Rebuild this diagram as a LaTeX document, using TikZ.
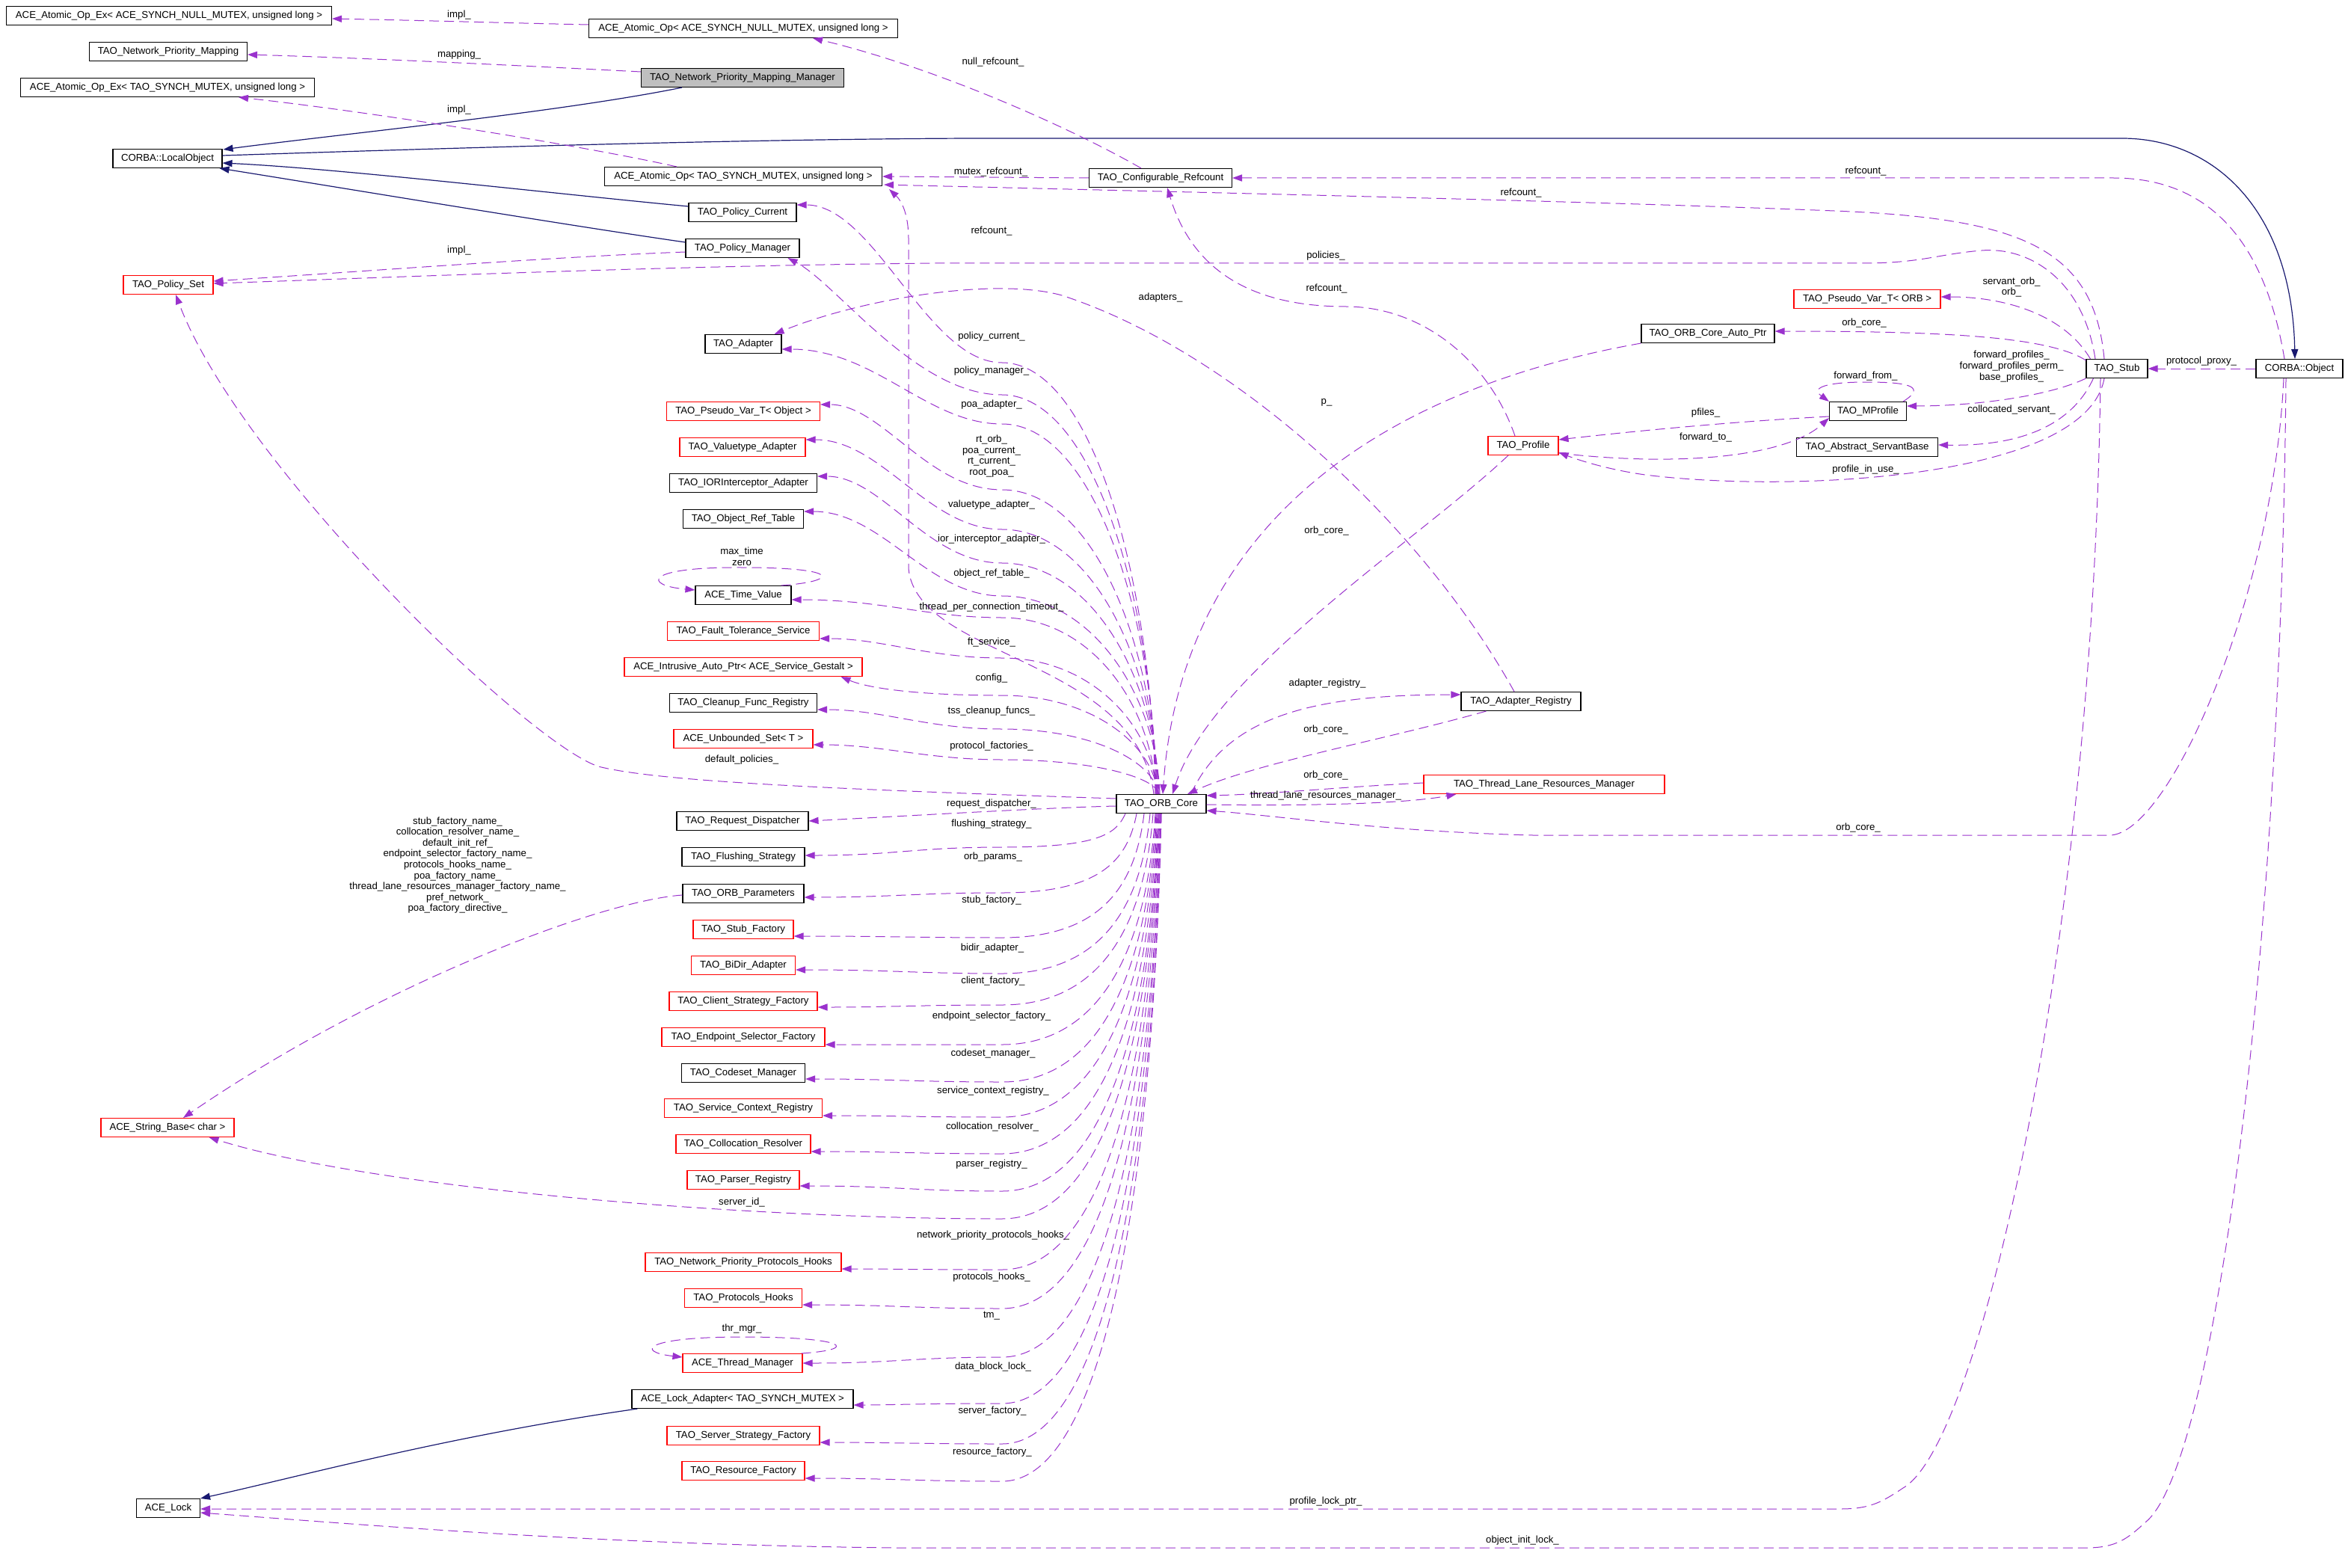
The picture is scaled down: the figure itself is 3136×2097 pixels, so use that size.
\documentclass[tikz,border=0pt]{standalone}
\usepackage{fontspec}
\setmainfont{Liberation Sans}
\usetikzlibrary{arrows.meta,calc}
\definecolor{depc}{HTML}{9A32CD}
\definecolor{inhc}{HTML}{191970}
\newcommand{\dfont}{\fontsize{6.6pt}{7.3pt}\selectfont}
\newcommand{\upE}[4]{\draw[dep] (#1,0 |- core.north) .. controls (#1-5,{(1062+#2)/2}) and (1460,#2) .. (1340,#2) .. controls (1240,#2) and (#4,0 |- #3) .. (#3);}
\newcommand{\dnE}[4]{\draw[dep] (#1,0 |- core.south) .. controls (#1-12,{1088+0.6*(#2-1088)}) and (1470,#2) .. (1340,#2) .. controls (1225,#2) and (#4,0 |- #3) .. (#3);}
\begin{document}
\begin{tikzpicture}[x=0.5pt,y=-0.5pt,
  box/.style={draw=black,line width=0.55pt,inner sep=0pt,minimum height=12.5pt,font=\dfont},
  bw/.style={minimum width={#1*0.5pt}},
  rbox/.style={box,draw=red},
  lbl/.style={font=\dfont,inner sep=0pt,align=center},
  dep/.style={draw=depc,line width=0.5pt,dash pattern=on 6.5pt off 3.5pt,-{Triangle[length=6.5pt,width=4.6pt]}},
  inh/.style={draw=inhc,line width=0.6pt,-{Triangle[length=6.5pt,width=4.6pt]}}]
\useasboundingbox (0,0) rectangle (3136,2097);
% ---------- nodes ----------
\node[box,bw=435] (aopexnull) at (226,21) {ACE\_Atomic\_Op\_Ex< ACE\_SYNCH\_NULL\_MUTEX, unsigned long >};
\node[box,bw=211] (npm) at (225,69) {TAO\_Network\_Priority\_Mapping};
\node[box,bw=393] (aopextao) at (224,117) {ACE\_Atomic\_Op\_Ex< TAO\_SYNCH\_MUTEX, unsigned long >};
\node[box,bw=146] (localobj) at (224,212) {CORBA::LocalObject};
\node[rbox,bw=120] (policyset) at (225,381) {TAO\_Policy\_Set};
\node[box,bw=271,fill=gray!50] (mgr) at (993,104) {TAO\_Network\_Priority\_Mapping\_Manager};
\node[box,bw=413] (aopnull) at (994,38) {ACE\_Atomic\_Op< ACE\_SYNCH\_NULL\_MUTEX, unsigned long >};
\node[box,bw=371] (aoptao) at (994,236) {ACE\_Atomic\_Op< TAO\_SYNCH\_MUTEX, unsigned long >};
\node[box,bw=144] (pcur) at (993,284) {TAO\_Policy\_Current};
\node[box,bw=152] (pmgr) at (993,332) {TAO\_Policy\_Manager};
\node[box,bw=191] (cref) at (1552,238) {TAO\_Configurable\_Refcount};
\node[rbox,bw=196] (pvorb) at (2497,400) {TAO\_Pseudo\_Var\_T< ORB >};
\node[box,bw=178] (autoptr) at (2284,446) {TAO\_ORB\_Core\_Auto\_Ptr};
\node[box,bw=82] (stub) at (2831,493) {TAO\_Stub};
\node[box,bw=116] (cobj) at (3075,493) {CORBA::Object};
\node[box,bw=103] (mprof) at (2498,550) {TAO\_MProfile};
\node[rbox,bw=94] (profile) at (2037,596) {TAO\_Profile};
\node[box,bw=189] (servant) at (2497,598) {TAO\_Abstract\_ServantBase};
\node[box,bw=102] (adapter) at (994,460) {TAO\_Adapter};
\node[rbox,bw=205] (pvobj) at (994,550) {TAO\_Pseudo\_Var\_T< Object >};
\node[rbox,bw=168] (vtadapter) at (993,598) {TAO\_Valuetype\_Adapter};
\node[box,bw=197] (ior) at (994,646) {TAO\_IORInterceptor\_Adapter};
\node[box,bw=161] (ort) at (994,694) {TAO\_Object\_Ref\_Table};
\node[box,bw=128] (timev) at (994,796) {ACE\_Time\_Value};
\node[rbox,bw=203] (ft) at (994,844) {TAO\_Fault\_Tolerance\_Service};
\node[rbox,bw=318] (iap) at (994,892) {ACE\_Intrusive\_Auto\_Ptr< ACE\_Service\_Gestalt >};
\node[box,bw=197] (cleanup) at (994,940) {TAO\_Cleanup\_Func\_Registry};
\node[rbox,bw=186] (uset) at (994,988) {ACE\_Unbounded\_Set< T >};
\node[box,bw=176] (reqd) at (993,1098) {TAO\_Request\_Dispatcher};
\node[box,bw=164] (flush) at (994,1146) {TAO\_Flushing\_Strategy};
\node[box,bw=162] (orbparams) at (994,1195) {TAO\_ORB\_Parameters};
\node[rbox,bw=134] (stubfac) at (994,1243) {TAO\_Stub\_Factory};
\node[rbox,bw=139] (bidir) at (994,1291) {TAO\_BiDir\_Adapter};
\node[rbox,bw=198] (csf) at (994,1339) {TAO\_Client\_Strategy\_Factory};
\node[rbox,bw=218] (esf) at (994,1387) {TAO\_Endpoint\_Selector\_Factory};
\node[box,bw=165] (codeset) at (994,1435) {TAO\_Codeset\_Manager};
\node[rbox,bw=211] (scr) at (994,1482) {TAO\_Service\_Context\_Registry};
\node[rbox,bw=180] (colres) at (994,1530) {TAO\_Collocation\_Resolver};
\node[rbox,bw=150] (parser) at (994,1578) {TAO\_Parser\_Registry};
\node[rbox,bw=262] (npph) at (994,1688) {TAO\_Network\_Priority\_Protocols\_Hooks};
\node[rbox,bw=157] (ph) at (994,1736) {TAO\_Protocols\_Hooks};
\node[rbox,bw=160] (thrmgr) at (993,1823) {ACE\_Thread\_Manager};
\node[box,bw=296] (lockad) at (993,1871) {ACE\_Lock\_Adapter< TAO\_SYNCH\_MUTEX >};
\node[rbox,bw=204] (ssf) at (994,1920) {TAO\_Server\_Strategy\_Factory};
\node[rbox,bw=164] (rf) at (994,1967) {TAO\_Resource\_Factory};
\node[rbox,bw=178] (strbase) at (224,1508) {ACE\_String\_Base< char >};
\node[box,bw=85] (acelock) at (225,2017) {ACE\_Lock};
\node[box,bw=120] (core) at (1553,1075) {TAO\_ORB\_Core};
\node[box,bw=160] (areg) at (2034,938) {TAO\_Adapter\_Registry};
\node[rbox,bw=322] (tlrm) at (2065,1049) {TAO\_Thread\_Lane\_Resources\_Manager};
% ---------- inheritance ----------
\draw[inh] ($(mgr.south west)+(55,0)$) .. controls (750,150) and (450,180) .. ($(localobj.north east)+(1,1)$);
\draw[inh] ($(pcur.west)+(0,-8)$) .. controls (750,260) and (450,225) .. ($(localobj.east)+(0,6)$);
\draw[inh] ($(pmgr.west)+(0,-8)$) .. controls (750,300) and (450,250) .. ($(localobj.south east)+(-4,0)$);
\draw[inh] ($(localobj.east)+(0,-4)$) .. controls (600,198) and (1000,186) .. (1300,185) -- (2838,185) .. controls (2960,185) and (3065,280) .. ($(cobj.north)+(-6,0)$);
\draw[inh] ($(lockad.south west)+(8,0)$) .. controls (600,1920) and (400,1975) .. (acelock.north east);
% ---------- top-left usage ----------
\draw[dep] ($(aopnull.west)+(0,-5)$) .. controls (650,30) and (550,27) .. ($(aopexnull.east)+(0,4)$);
\node[lbl] (l1) at (614,20) {impl\_};
\draw[dep] ($(mgr.west)+(0,-8)$) .. controls (700,88) and (500,78) .. ($(npm.east)+(0,4)$);
\node[lbl] (l2) at (614,73) {mapping\_};
\draw[dep] ($(aoptao.north west)+(97,0)$) .. controls (780,195) and (500,150) .. ($(aopextao.south east)+(-102,0)$);
\node[lbl] (l3) at (614,147) {impl\_};
\draw[dep] ($(pmgr.west)+(0,5)$) .. controls (750,343) and (500,362) .. ($(policyset.east)+(0,-5)$);
\node[lbl] (l4) at (614,335) {impl\_};
\draw[dep] ($(cref.north)+(-26,0)$) .. controls (1430,170) and (1250,90) .. ($(aopnull.south east)+(-114,0)$);
\node[lbl] (l5) at (1328,83) {null\_refcount\_};
\draw[dep] (cref.west) -- (aoptao.east);
\node[lbl] (l6) at (1325,230) {mutex\_refcount\_};
\draw[dep] ($(cobj.north)+(-20,0)$) .. controls (3030,330) and (2960,238) .. (2826,238) -- (cref.east);
\node[lbl] (l7) at (2495,229) {refcount\_};
\draw[dep] ($(stub.north)+(-17,0)$) .. controls (2800,330) and (2700,292) .. (2453,282) .. controls (2100,268) and (1500,255) .. ($(aoptao.east)+(2,11)$);
\node[lbl] (l8) at (2034,258) {refcount\_};
\draw[dep] ($(core.north)+(-10,0)$) .. controls (1520,880) and (1225,880) .. (1215,760) -- (1215,320) .. controls (1215,285) and (1205,268) .. ($(aoptao.south east)+(9,4)$);
\node[lbl] (l9) at (1326,309) {refcount\_};
\draw[dep] ($(stub.north)+(-29,0)$) .. controls (2785,370) and (2710,330) .. (2650,335) .. controls (2590,340) and (2570,352) .. (2490,352) -- (1250,352) .. controls (900,355) and (500,372) .. ($(policyset.east)+(0,-2)$);
\node[lbl] (l10) at (1773,342) {policies\_};
\draw[dep] ($(core.west)+(0,-7)$) .. controls (1100,1055) and (880,1045) .. (800,1025) .. controls (700,990) and (320,620) .. ($(policyset.south)+(10,0)$);
\node[lbl] (l11) at (992,1016) {default\_policies\_};
% ---------- profile / registry ----------
\draw[dep] ($(profile.north)+(-11,0)$) .. controls (1990,480) and (1900,410) .. (1800,410) .. controls (1700,410) and (1600,380) .. ($(cref.south)+(9,0)$);
\node[lbl] (l12) at (1774,386) {refcount\_};
\draw[dep] ($(areg.north)+(-9,0)$) .. controls (1900,700) and (1650,470) .. (1420,395) .. controls (1330,370) and (1150,400) .. ($(adapter.north east)+(-10,0)$);
\node[lbl] (l13) at (1552,398) {adapters\_};
\draw[dep] (autoptr.south west) .. controls (1850,520) and (1580,700) .. ($(core.north)+(2,0)$);
\node[lbl] (l14) at (1774,538) {p\_};
\draw[dep] ($(profile.south)+(-20,0)$) .. controls (1900,720) and (1620,900) .. ($(core.north)+(15,0)$);
\node[lbl] (l15) at (1774,710) {orb\_core\_};
\draw[dep] ($(core.north east)+(-21,0)$) .. controls (1640,960) and (1750,929) .. ($(areg.west)+(0,-9)$);
\node[lbl] (l16) at (1775,914) {adapter\_registry\_};
\draw[dep] ($(areg.south west)+(34,0)$) .. controls (1850,990) and (1680,1020) .. ($(core.north)+(35,0)$);
\node[lbl] (l17) at (1773,976) {orb\_core\_};
\draw[dep] ($(tlrm.west)+(0,-2)$) .. controls (1800,1052) and (1700,1062) .. ($(core.east)+(0,-11)$);
\node[lbl] (l18) at (1773,1037) {orb\_core\_};
\draw[dep] ($(core.east)+(0,1)$) .. controls (1750,1078) and (1880,1075) .. ($(tlrm.south west)+(44,0)$);
\node[lbl] (l19) at (1773,1064) {thread\_lane\_resources\_manager\_};
\draw[dep] ($(cobj.south)+(-21,0)$) .. controls (3040,800) and (2900,1117) .. (2821,1117) -- (2050,1117) .. controls (1850,1112) and (1700,1090) .. ($(core.east)+(0,9)$);
\node[lbl] (l20) at (2485,1107) {orb\_core\_};
% ---------- stub / object ----------
\draw[dep] (cobj.west) -- (stub.east);
\node[lbl] (l21) at (2944,483) {protocol\_proxy\_};
\draw[dep] ($(stub.north west)+(6,0)$) .. controls (2760,420) and (2680,397) .. ($(pvorb.east)+(0,-3)$);
\node[lbl] (l22) at (2690,384) {servant\_orb\_\\orb\_};
\draw[dep] ($(stub.north west)+(0,2)$) .. controls (2740,450) and (2600,443) .. ($(autoptr.east)+(0,-3)$);
\node[lbl] (l23) at (2493,432) {orb\_core\_};
\draw[dep] (stub.south west) .. controls (2740,530) and (2640,543) .. ($(mprof.east)+(0,-7)$);
\node[lbl] (l24) at (2690,490) {forward\_profiles\_\\forward\_profiles\_perm\_\\base\_profiles\_};
\draw[dep] ($(stub.south west)+(10,0)$) .. controls (2770,570) and (2700,597) .. ($(servant.east)+(0,-3)$);
\node[lbl] (l25) at (2690,548) {collocated\_servant\_};
\draw[dep] ($(stub.south)+(-17,0)$) .. controls (2790,640) and (2400,660) .. (2200,635) .. controls (2150,628) and (2110,615) .. ($(profile.east)+(0,9)$);
\node[lbl] (l26) at (2495,628) {profile\_in\_use\_};
\draw[dep] ($(mprof.north east)+(-5,0)$) .. controls (2580,515) and (2545,511) .. (2495,511) .. controls (2445,511) and (2420,518) .. (mprof.north west);
\node[lbl] (l27) at (2495,503) {forward\_from\_};
\draw[dep] ($(mprof.west)+(0,7)$) .. controls (2330,563) and (2200,575) .. ($(profile.east)+(0,-8)$);
\node[lbl] (l28) at (2281,552) {pfiles\_};
\draw[dep] ($(profile.east)+(0,10)$) .. controls (2250,625) and (2390,610) .. ($(mprof.west)+(0,9)$);
\node[lbl] (l29) at (2281,585) {forward\_to\_};
\draw[dep] ($(stub.south)+(-22,0)$) .. controls (2800,1250) and (2650,1930) .. (2545,1990) .. controls (2515,2010) and (2500,2018) .. (2460,2018) -- ($(acelock.east)+(0,1)$);
\node[lbl] (l30) at (1773,2008) {profile\_lock\_ptr\_};
\draw[dep] ($(cobj.south)+(-18,0)$) .. controls (3050,1300) and (2960,1960) .. (2870,2035) .. controls (2845,2058) and (2830,2070) .. (2790,2070) -- (1200,2070) .. controls (800,2066) and (500,2040) .. ($(acelock.east)+(0,6)$);
\node[lbl] (l31) at (2036,2060) {object\_init\_lock\_};
% ---------- ORB_Core to left column (upper) ----------
\coordinate (tpc) at ($(pcur.east)+(0,-10)$);
\upE{1545}{485}{tpc}{1170}
\node[lbl] (l32) at (1326,450) {policy\_current\_};
\draw[dep] (1546,0 |- core.north) .. controls (1541,795) and (1460,528) .. (1340,528) .. controls (1225,528) and (1120,380) .. ($(pmgr.south east)+(-16,0)$);
\node[lbl] (l33) at (1326,496) {policy\_manager\_};
\coordinate (tad) at ($(adapter.east)+(0,7)$);
\upE{1547}{567}{tad}{1170}
\node[lbl] (l34) at (1326,541) {poa\_adapter\_};
\coordinate (tpvo) at ($(pvobj.east)+(0,-9)$);
\upE{1548}{655}{tpvo}{1180}
\node[lbl] (l35) at (1326,610) {rt\_orb\_\\poa\_current\_\\rt\_current\_\\root\_poa\_};
\coordinate (tvt) at ($(vtadapter.east)+(0,-10)$);
\upE{1549}{708}{tvt}{1180}
\node[lbl] (l36) at (1326,675) {valuetype\_adapter\_};
\coordinate (tior) at ($(ior.east)+(0,-9)$);
\upE{1550}{753}{tior}{1180}
\node[lbl] (l37) at (1326,721) {ior\_interceptor\_adapter\_};
\coordinate (tort) at ($(ort.east)+(0,-10)$);
\upE{1551}{797}{tort}{1180}
\node[lbl] (l38) at (1326,767) {object\_ref\_table\_};
\coordinate (ttv) at ($(timev.east)+(0,6)$);
\upE{1546}{826}{ttv}{1180}
\node[lbl] (l39) at (1326,812) {thread\_per\_connection\_timeout\_};
\coordinate (tft) at ($(ft.east)+(0,10)$);
\upE{1547}{880}{tft}{1180}
\node[lbl] (l40) at (1326,859) {ft\_service\_};
\draw[dep] (1548,0 |- core.north) .. controls (1543,996) and (1460,930) .. (1340,930) .. controls (1225,930) and (1160,920) .. ($(iap.south east)+(-29,0)$);
\node[lbl] (l41) at (1326,907) {config\_};
\coordinate (tcl) at ($(cleanup.east)+(0,9)$);
\upE{1549}{975}{tcl}{1180}
\node[lbl] (l42) at (1326,951) {tss\_cleanup\_funcs\_};
\coordinate (tus) at ($(uset.east)+(0,8)$);
\upE{1550}{1016}{tus}{1180}
\node[lbl] (l43) at (1326,998) {protocol\_factories\_};
% ---------- ORB_Core to left column (lower) ----------
\draw[dep] ($(core.west)+(0,3)$) .. controls (1400,1080) and (1200,1092) .. (reqd.east);
\node[lbl] (l44) at (1326,1075) {request\_dispatcher\_};
\coordinate (tfl) at ($(flush.east)+(0,-2)$);
\dnE{1505}{1133}{tfl}{1195}
\node[lbl] (l45) at (1326,1102) {flushing\_strategy\_};
\coordinate (top) at ($(orbparams.east)+(0,5)$);
\dnE{1520}{1194}{top}{1195}
\node[lbl] (l46) at (1328,1146) {orb\_params\_};
\coordinate (tsf) at ($(stubfac.east)+(0,9)$);
\dnE{1530}{1254}{tsf}{1195}
\node[lbl] (l47) at (1326,1204) {stub\_factory\_};
\coordinate (tbd) at ($(bidir.east)+(0,6)$);
\dnE{1538}{1302}{tbd}{1195}
\node[lbl] (l48) at (1327,1268) {bidir\_adapter\_};
\coordinate (tcsf) at ($(csf.east)+(0,8)$);
\dnE{1542}{1344}{tcsf}{1195}
\node[lbl] (l49) at (1328,1312) {client\_factory\_};
\coordinate (tesf) at ($(esf.east)+(0,10)$);
\dnE{1545}{1397}{tesf}{1195}
\node[lbl] (l50) at (1326,1359) {endpoint\_selector\_factory\_};
\coordinate (tcs) at ($(codeset.east)+(0,8)$);
\dnE{1546}{1447}{tcs}{1195}
\node[lbl] (l51) at (1328,1409) {codeset\_manager\_};
\coordinate (tscr) at ($(scr.east)+(0,10)$);
\dnE{1547}{1494}{tscr}{1195}
\node[lbl] (l52) at (1328,1459) {service\_context\_registry\_};
\coordinate (tcr) at ($(colres.east)+(0,10)$);
\dnE{1548}{1543}{tcr}{1195}
\node[lbl] (l53) at (1327,1507) {collocation\_resolver\_};
\coordinate (tpr) at ($(parser.east)+(0,8)$);
\dnE{1549}{1593}{tpr}{1195}
\node[lbl] (l54) at (1326,1557) {parser\_registry\_};
\draw[dep] (1550,0 |- core.south) .. controls (1535,1450) and (1460,1630) .. (1340,1630) .. controls (1000,1630) and (500,1590) .. ($(strbase.south east)+(-34,0)$);
\node[lbl] (l55) at (992,1608) {server\_id\_};
\coordinate (tnp) at ($(npph.east)+(0,9)$);
\dnE{1550}{1698}{tnp}{1195}
\node[lbl] (l56) at (1328,1652) {network\_priority\_protocols\_hooks\_};
\coordinate (tph) at ($(ph.east)+(0,9)$);
\dnE{1551}{1750}{tph}{1195}
\node[lbl] (l57) at (1326,1708) {protocols\_hooks\_};
\coordinate (ttm) at (thrmgr.east);
\dnE{1552}{1815}{ttm}{1195}
\node[lbl] (l58) at (1326,1760) {tm\_};
\coordinate (tla) at ($(lockad.east)+(0,8)$);
\dnE{1552}{1877}{tla}{1195}
\node[lbl] (l59) at (1328,1828) {data\_block\_lock\_};
\coordinate (tss) at ($(ssf.east)+(0,9)$);
\dnE{1553}{1931}{tss}{1195}
\node[lbl] (l60) at (1327,1887) {server\_factory\_};
\coordinate (trf) at ($(rf.east)+(0,10)$);
\dnE{1553}{1981}{trf}{1195}
\node[lbl] (l61) at (1327,1942) {resource\_factory\_};
% ---------- ORB parameters strings ----------
\draw[dep] ($(orbparams.west)+(0,2)$) .. controls (800,1205) and (500,1320) .. ($(strbase.north)+(21,0)$);
\node[lbl] (l62) at (612,1157) {stub\_factory\_name\_\\collocation\_resolver\_name\_\\default\_init\_ref\_\\endpoint\_selector\_factory\_name\_\\protocols\_hooks\_name\_\\poa\_factory\_name\_\\thread\_lane\_resources\_manager\_factory\_name\_\\pref\_network\_\\poa\_factory\_directive\_};
% ---------- self loops ----------
\draw[dep] ($(timev.north east)+(-14,0)$) .. controls (1120,778) and (1130,759) .. (992,759) .. controls (860,758) and (860,783) .. ($(timev.west)+(0,-7)$);
\node[lbl] (l63) at (992,744) {max\_time\\zero};
\draw[dep] ($(thrmgr.north east)+(-2,0)$) .. controls (1150,1805) and (1135,1788) .. (992,1788) .. controls (860,1788) and (850,1808) .. ($(thrmgr.west)+(0,-8)$);
\node[lbl] (l64) at (992,1777) {thr\_mgr\_};
\end{tikzpicture}
\end{document}
